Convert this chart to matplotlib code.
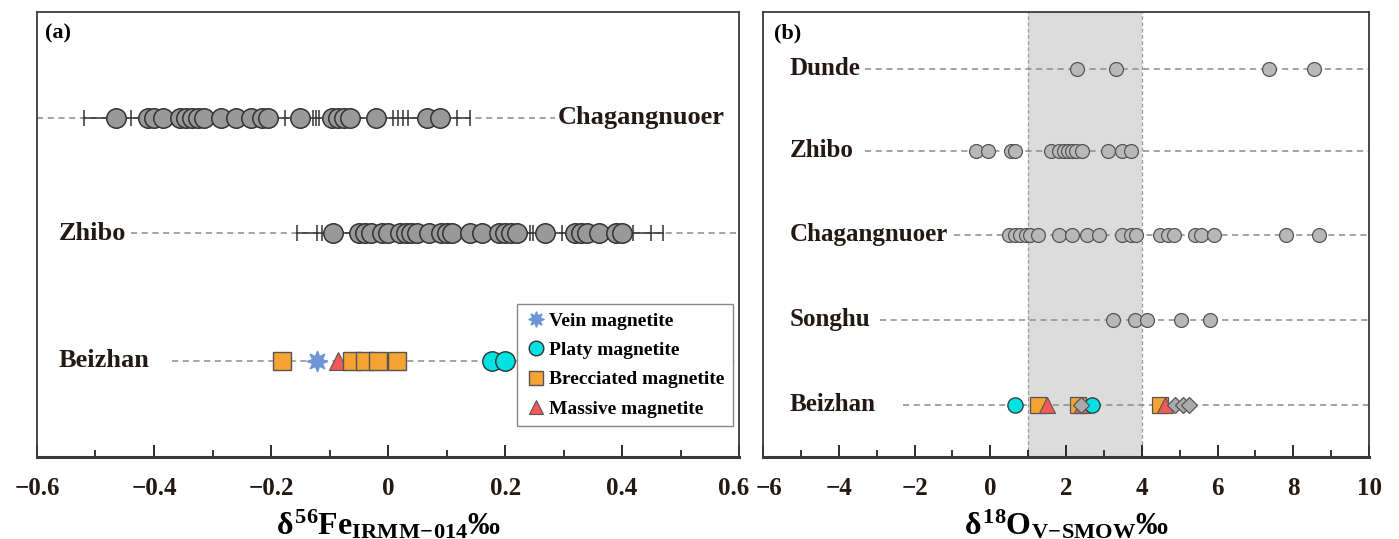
import numpy as np
import matplotlib as mpl
import matplotlib.pyplot as plt
import matplotlib.transforms as mtrans

plt.rcParams['font.family'] = ['Liberation Serif', 'DejaVu Serif']
plt.rcParams['font.weight'] = 'bold'
plt.rcParams['mathtext.fontset'] = 'custom'
plt.rcParams['mathtext.rm'] = 'Liberation Serif:bold'
plt.rcParams['mathtext.bf'] = 'Liberation Serif:bold'
plt.rcParams['mathtext.it'] = 'Liberation Serif:bold'

# ---- Daten (a): d56Fe ----
cha_fe = [-0.465, -0.41, -0.40, -0.385, -0.355, -0.345, -0.335, -0.325, -0.315, -0.285,
          -0.26, -0.235, -0.215, -0.205, -0.15, -0.095, -0.085, -0.075, -0.065, -0.02,
          0.067, 0.089]
cha_fe_ticks = [-0.52, -0.44, -0.176, -0.128, -0.123, -0.118, 0.008, 0.017, 0.026, 0.034,
                0.118, 0.14]
zhi_fe = [-0.094, -0.05, -0.04, -0.03, -0.01, 0.0, 0.02, 0.03, 0.04, 0.05, 0.07, 0.09,
          0.10, 0.11, 0.14, 0.16, 0.19, 0.20, 0.21, 0.22, 0.268, 0.32, 0.33, 0.34, 0.36,
          0.39, 0.40]
zhi_fe_ticks = [-0.155, -0.121, -0.113, 0.243, 0.248, 0.297, 0.419, 0.45, 0.47]
bei_vein = [-0.122]
bei_platy = [0.178, 0.20]
bei_brecc = [-0.181, -0.062, -0.039, -0.017, 0.015]
bei_massive = [-0.085, -0.003]

# ---- Daten (b): d18O ----
dunde_o = [2.3, 3.32, 7.36, 8.55]
zhibo_o = [-0.37, -0.05, 0.55, 0.66, 1.61, 1.82, 1.95, 2.06, 2.16, 2.27, 2.43, 3.11, 3.48, 3.72]
cha_o = [0.5, 0.66, 0.79, 0.95, 1.06, 1.27, 1.82, 2.16, 2.56, 2.87, 3.48, 3.72, 3.85,
         4.49, 4.7, 4.85, 5.4, 5.55, 5.9, 7.8, 8.68]
songhu_o = [3.25, 3.83, 4.14, 5.04, 5.8]
bei_o_platy = [0.66, 2.69]
bei_o_brecc = [1.25, 2.32, 4.49]
bei_o_massive = [1.5, 2.43, 4.6]
bei_o_other = [2.4, 4.88, 5.09, 5.25]

c_vein = '#6f95d6'
c_platy = '#00e1e1'
c_brecc = '#f5a332'
c_mass = '#f25a5a'
dash = dict(ls=(0, (4, 3)), color='#8a8a8a', lw=1.1, zorder=1)
star8 = (8, 1, 0)

fig = plt.figure(figsize=(13.99, 5.39), dpi=100)
ax1 = fig.add_axes([0.0264, 0.152, 0.502, 0.826])
ax2 = fig.add_axes([0.5454, 0.152, 0.4332, 0.826])

# Panel a
ax1.set_xlim(-0.6, 0.6)
ax1.set_ylim(0, 1)
y_cha, y_zhi, y_bei = 0.762, 0.503, 0.216

ax1.plot([-0.6, 0.285], [y_cha]*2, **dash)
ax1.plot([min(cha_fe_ticks), max(cha_fe_ticks)], [y_cha]*2, color='#333333', lw=1.1, zorder=2)
ax1.plot(cha_fe_ticks, [y_cha]*len(cha_fe_ticks), '|', color='#333333', ms=11, mew=1.1, zorder=2)
ax1.plot(cha_fe, [y_cha]*len(cha_fe), 'o', mfc='#999999', mec='#333333', mew=1.1, ms=14, zorder=3)
ax1.text(0.575, y_cha, 'Chagangnuoer', ha='right', va='center', fontsize=19, fontweight='bold', color='#231815')

ax1.plot([-0.44, 0.6], [y_zhi]*2, **dash)
ax1.plot([min(zhi_fe_ticks), max(zhi_fe_ticks)], [y_zhi]*2, color='#333333', lw=1.1, zorder=2)
ax1.plot(zhi_fe_ticks, [y_zhi]*len(zhi_fe_ticks), '|', color='#333333', ms=11, mew=1.1, zorder=2)
ax1.plot(zhi_fe, [y_zhi]*len(zhi_fe), 'o', mfc='#999999', mec='#333333', mew=1.1, ms=14, zorder=3)
ax1.text(-0.563, y_zhi, 'Zhibo', ha='left', va='center', fontsize=19, fontweight='bold', color='#231815')

ax1.plot([-0.37, 0.6], [y_bei]*2, **dash)
ax1.text(-0.563, y_bei, 'Beizhan', ha='left', va='center', fontsize=19, fontweight='bold', color='#231815')
h_vein, = ax1.plot(bei_vein, [y_bei], marker=star8, color=c_vein, ms=15, mec=c_vein, zorder=3, ls='none')
h_platy, = ax1.plot(bei_platy, [y_bei]*2, 'o', mfc=c_platy, mec='#333333', ms=14, mew=1, zorder=3, ls='none')
h_mass, = ax1.plot(bei_massive, [y_bei]*2, '^', mfc=c_mass, mec='#555555', ms=13, mew=0.8, zorder=3, ls='none')
h_brecc, = ax1.plot(bei_brecc, [y_bei]*len(bei_brecc), 's', mfc=c_brecc, mec='#555555', ms=13, mew=1, zorder=4, ls='none')

leg = ax1.legend([h_vein, h_platy, h_brecc, h_mass],
                 ['Vein magnetite', 'Platy magnetite', 'Brecciated magnetite', 'Massive magnetite'],
                 loc='lower right', bbox_to_anchor=(0.997, 0.06), fontsize=14, labelspacing=0.6,
                 handletextpad=0.1, handlelength=1.1, borderpad=0.45, borderaxespad=0.2,
                 fancybox=False, edgecolor='#888888', framealpha=1, markerscale=0.75)
leg.get_frame().set_linewidth(1.0)

ax1.xaxis.set_major_locator(mpl.ticker.MultipleLocator(0.2))
ax1.xaxis.set_minor_locator(mpl.ticker.MultipleLocator(0.1))
ax1.xaxis.set_major_formatter(mpl.ticker.FuncFormatter(lambda v, p: '0' if abs(v) < 1e-9 else ('%.1f' % v).replace('-', '\u2212')))
ax1.set_xlabel(r'$\delta^{56}$Fe$_{\mathrm{IRMM\!-\!014}}$‰', fontsize=23, fontweight='bold', labelpad=6)
ax1.text(0.012, 0.975, '(a)', transform=ax1.transAxes, ha='left', va='top', fontsize=16, fontweight='bold')

# Panel b
ax2.set_xlim(-6, 10)
ax2.set_ylim(0, 1)
ax2.axvspan(1, 4, color='#dcdcdc', zorder=0, lw=0)
ax2.axvline(1, color='#999999', ls=(0, (3, 2)), lw=0.9, zorder=0.5)
ax2.axvline(4, color='#999999', ls=(0, (3, 2)), lw=0.9, zorder=0.5)

rows_b = [('Dunde', dunde_o, 0.872, -3.3),
          ('Zhibo', zhibo_o, 0.688, -3.3),
          ('Chagangnuoer', cha_o, 0.499, -0.95),
          ('Songhu', songhu_o, 0.308, -2.9)]
for name, vals, yy, x0 in rows_b:
    ax2.plot([x0, 10], [yy]*2, **dash)
    ax2.plot(vals, [yy]*len(vals), 'o', mfc='#b8b8b8', mec='#555555', mew=0.9, ms=10, zorder=3, ls='none')
    ax2.text(-5.3, yy, name, ha='left', va='center', fontsize=18, fontweight='bold', color='#231815')

y_b = 0.117
ax2.plot([-2.3, 10], [y_b]*2, **dash)
ax2.text(-5.3, y_b, 'Beizhan', ha='left', va='center', fontsize=18, fontweight='bold', color='#231815')
ax2.plot(bei_o_brecc, [y_b]*len(bei_o_brecc), 's', mfc=c_brecc, mec='#555555', ms=11, mew=0.9, zorder=3, ls='none')
ax2.plot(bei_o_massive, [y_b]*len(bei_o_massive), '^', mfc=c_mass, mec='#555555', ms=11, mew=0.8, zorder=4, ls='none')
ax2.plot(bei_o_platy, [y_b]*len(bei_o_platy), 'o', mfc=c_platy, mec='#333333', ms=11, mew=0.9, zorder=4, ls='none')
ax2.plot(bei_o_other, [y_b]*len(bei_o_other), 'D', mfc='#aaaaaa', mec='#555555', ms=8.5, mew=0.9, zorder=5, ls='none')

ax2.xaxis.set_major_locator(mpl.ticker.FixedLocator([-6, -4, -2, 0, 2, 4, 6, 8, 10]))
ax2.xaxis.set_minor_locator(mpl.ticker.MultipleLocator(1))
ax2.xaxis.set_major_formatter(mpl.ticker.FuncFormatter(lambda v, p: ('%d' % v).replace('-', '\u2212')))
ax2.set_xlabel(r'$\delta^{18}$O$_{\mathrm{V\!-\!SMOW}}$‰', fontsize=23, fontweight='bold', labelpad=6)
ax2.text(0.018, 0.975, '(b)', transform=ax2.transAxes, ha='left', va='top', fontsize=16, fontweight='bold')
ax1.xaxis.set_major_locator(mpl.ticker.FixedLocator([-0.6, -0.4, -0.2, 0, 0.2, 0.4, 0.6]))

for ax in (ax1, ax2):
    ax.set_yticks([])
    for s in ax.spines.values():
        s.set_color('#3a3a3a')
        s.set_linewidth(1.3)
    ax.spines['bottom'].set_linewidth(2.2)
    ax.tick_params(axis='x', which='major', direction='in', length=9, width=1.3, labelsize=18, pad=14, colors='#231815')
    ax.tick_params(axis='x', which='minor', direction='in', length=5, width=1.1)
    for lab in ax.get_xticklabels():
        lab.set_fontweight('bold')

# Randlabels etwas auseinanderschieben, damit 0.6 und -6 sich nicht beruehren
fig.canvas.draw()
t_last = ax1.xaxis.get_major_ticks()[-1].label1
t_last.set_transform(t_last.get_transform() + mtrans.ScaledTranslation(-6/100, 0, fig.dpi_scale_trans))
t_first = ax2.xaxis.get_major_ticks()[0].label1
t_first.set_transform(t_first.get_transform() + mtrans.ScaledTranslation(6/100, 0, fig.dpi_scale_trans))

fig.savefig('out.png', dpi=100)
